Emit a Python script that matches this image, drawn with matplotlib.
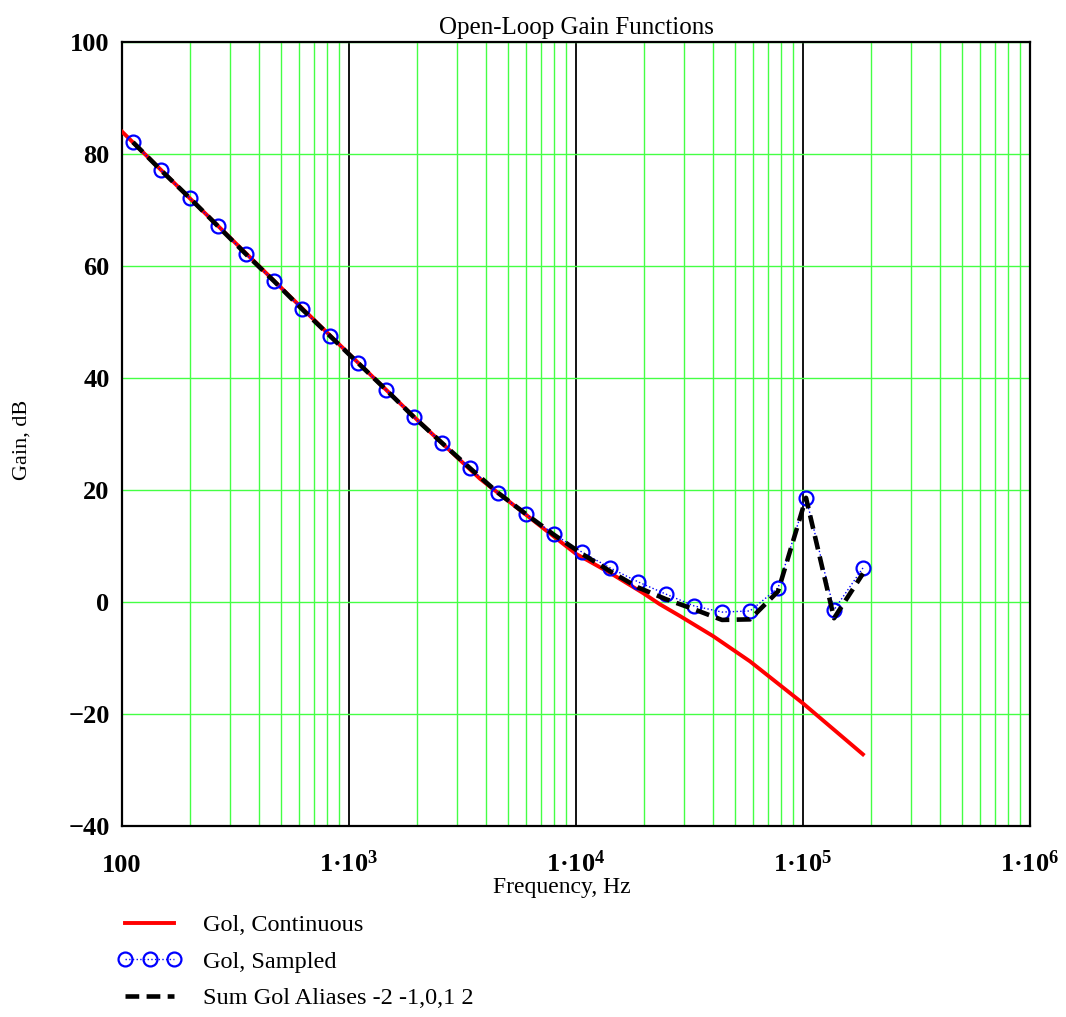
import numpy as np
import matplotlib
matplotlib.use("Agg")
import matplotlib.pyplot as plt
from matplotlib.ticker import FixedLocator, LogLocator, NullFormatter

plt.rcParams['font.family'] = ['Liberation Serif', 'DejaVu Serif']
plt.rcParams['mathtext.fontset'] = 'custom'
plt.rcParams['mathtext.rm'] = 'Liberation Serif'
plt.rcParams['mathtext.bf'] = 'Liberation Serif:bold'
plt.rcParams['mathtext.default'] = 'bf'

# continuous open-loop gain
cont_freq = [100, 200, 500, 1000, 2000, 3777, 10000, 14120, 19740, 23400,
             28700, 40200, 58400, 100000, 183600]
cont_db = [84.0, 72.0, 56.2, 44.3, 32.5, 22.0, 8.6, 5.2, 1.6, -0.4,
           -2.5, -6.1, -10.6, -18.1, -27.2]

# sampled points
samp_freq = [111.8, 148.5, 199.3, 264.8, 351.8, 467.2, 620.9, 824.8, 1095,
             1455, 1933, 2569, 3412, 4533, 6022, 8001, 10630, 14120, 18760,
             24920, 33110, 43980, 58430, 77620, 103100, 137000, 183800]
samp_db = [82.1, 77.1, 72.1, 67.1, 62.1, 57.3, 52.3, 47.5, 42.7, 37.9, 33.0,
           28.4, 23.9, 19.5, 15.7, 12.1, 8.9, 6.1, 3.6, 1.4, -0.7, -1.8,
           -1.6, 2.5, 18.6, -1.4, 6.1]

# sum of aliases -2..2
alias_db = [82.1, 77.1, 72.1, 67.1, 62.1, 57.3, 52.3, 47.5, 42.7, 37.9, 33.0,
            28.4, 23.9, 19.5, 15.7, 12.0, 8.6, 5.5, 2.6, 0.5, -1.3, -3.2,
            -3.1, 1.9, 18.6, -2.9, 5.1]

x_ticks = [100, 1e3, 1e4, 1e5, 1e6]
x_labels = ['100', r'1·10$^{3}$', r'1·10$^{4}$', r'1·10$^{5}$', r'1·10$^{6}$']
y_ticks = [-40, -20, 0, 20, 40, 60, 80, 100]
y_labels = ['\u221240', '\u221220', '0', '20', '40', '60', '80', '100']

fig = plt.figure(figsize=(10.66, 10.17), dpi=100)
ax = fig.add_axes([122 / 1066, 1 - 826 / 1017, 908 / 1066, 784 / 1017])

ax.plot(cont_freq, cont_db, color='#ff0000', lw=2.8, zorder=3,
        label='Gol, Continuous')
ax.plot(samp_freq, samp_db, color='#0000ff', lw=1.0, ls=':', marker='o',
        ms=10, mfc='none', mec='#0000ff', mew=1.6, zorder=4,
        label='Gol, Sampled')
ax.plot(samp_freq, alias_db, color='black', lw=3.3, dashes=(3, 1.6),
        zorder=5, label='Sum Gol Aliases -2 -1,0,1 2')

ax.set_xscale('log')
ax.set_xlim(100, 1e6)
ax.set_ylim(-40, 100)

ax.xaxis.set_major_locator(FixedLocator(x_ticks))
ax.set_xticklabels(x_labels, va='baseline')
ax.xaxis.set_minor_locator(LogLocator(base=10, subs=np.arange(2, 10)))
ax.xaxis.set_minor_formatter(NullFormatter())
ax.yaxis.set_major_locator(FixedLocator(y_ticks))
ax.set_yticklabels(y_labels, va='center_baseline')

ax.grid(which='major', axis='x', color='black', lw=1.3)
ax.grid(which='minor', axis='x', color='#44ff44', lw=1.0)
ax.grid(which='major', axis='y', color='#44ff44', lw=1.0)
ax.set_axisbelow(True)

ax.tick_params(which='both', length=0)
ax.tick_params(axis='y', pad=9, labelsize=19)
ax.tick_params(axis='x', pad=33, labelsize=19)
for lab in ax.get_xticklabels() + ax.get_yticklabels():
    lab.set_fontweight('bold')

for sp in ax.spines.values():
    sp.set_linewidth(1.6)
    sp.set_color('black')

ax.set_title('Open-Loop Gain Functions', fontsize=18, pad=6)
ax.text((562 - 122) / 908, -62 / 784, 'Frequency, Hz', fontsize=17,
        ha='center', va='center', transform=ax.transAxes)
ax.text(-100 / 908, (826 - 440) / 784, 'Gain, dB', fontsize=16,
        rotation=90, ha='center', va='center', transform=ax.transAxes)

fig.legend(loc='upper left', bbox_to_anchor=(118 / 1066, 1 - 914 / 1017),
           frameon=False, fontsize=17.5, handlelength=2.6, handletextpad=0.9,
           labelspacing=0.6, numpoints=3, borderpad=0, borderaxespad=0)

fig.savefig('out.png', dpi=100)
